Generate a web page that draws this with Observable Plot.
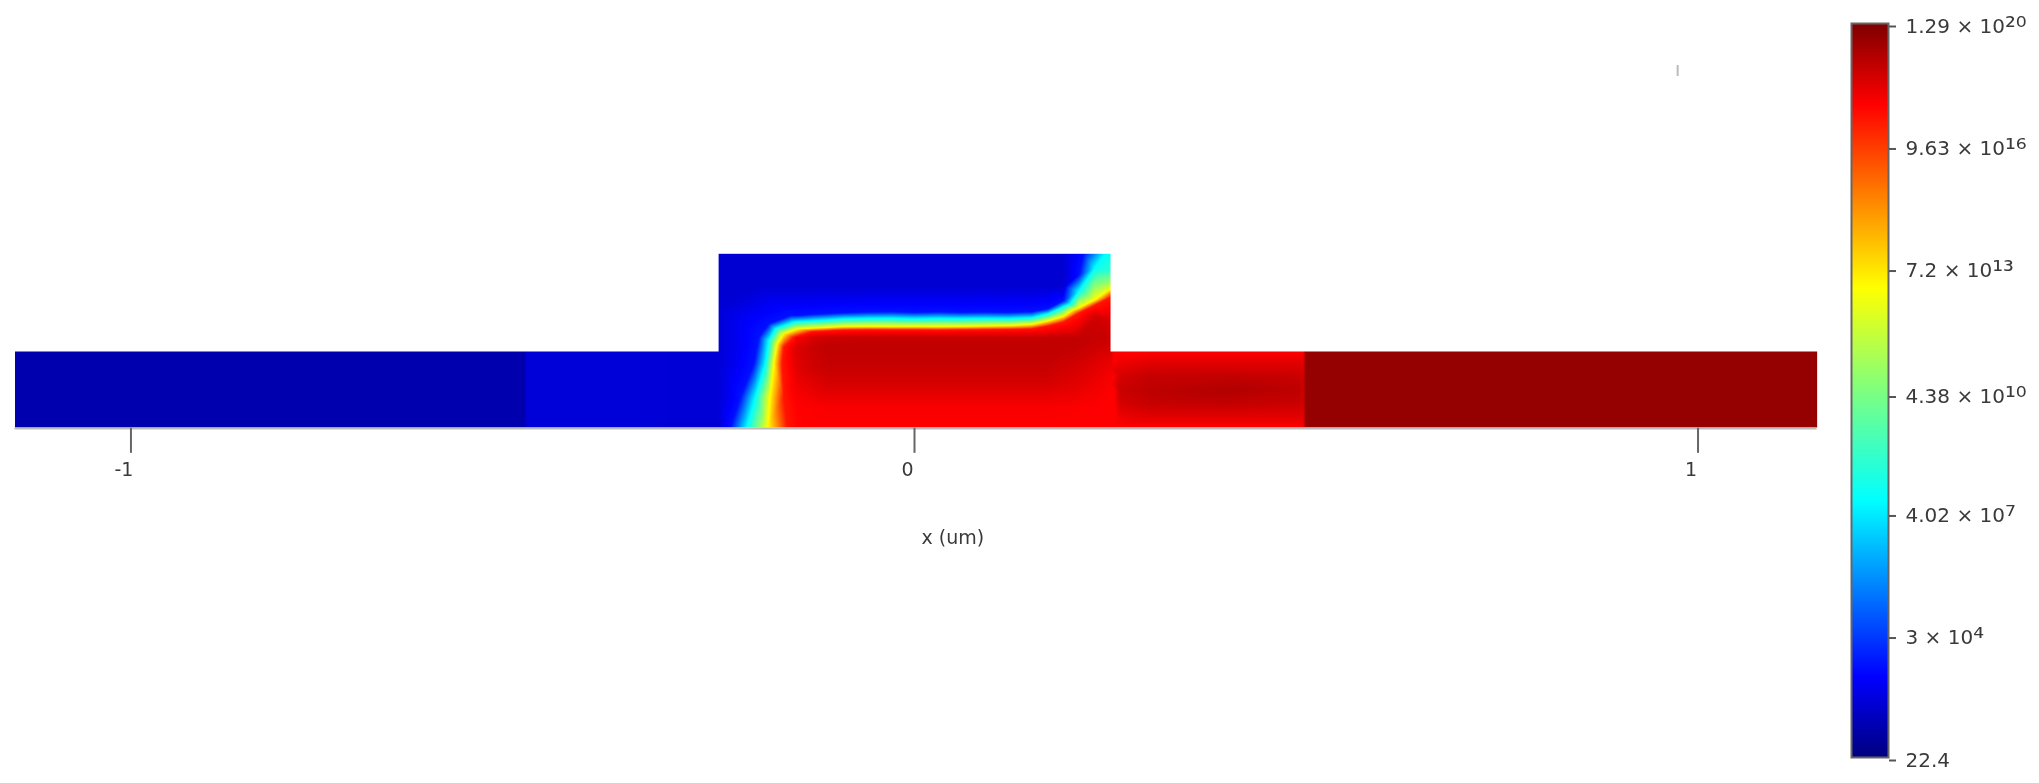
<!DOCTYPE html>
<html><head><meta charset="utf-8">
<script src="https://cdn.jsdelivr.net/npm/d3@7"></script>
<script src="https://cdn.jsdelivr.net/npm/@observablehq/plot@0.6"></script>
<style>
html,body{margin:0;padding:0;background:#fff;width:2039px;height:783px;overflow:hidden}
#wrap{position:relative;width:2039px;height:783px}
#wrap svg{position:absolute;top:0;filter:blur(.7px);background:transparent;font-family:"DejaVu Sans",sans-serif}
</style></head><body><div id="wrap"></div>
<script>
// Axis and colour bar
const xTicks = [-1, 0, 1];
const xLabel = "x (um)";
const barTicks = [1.35, 4.48, 7.6, 10.64, 13.86, 16.98, 20.11];           // log10 concentration
const barLabels = ["22.4", "3 × 10⁴", "4.02 × 10⁷", "4.38 × 10¹⁰", "7.2 × 10¹³", "9.63 × 10¹⁶", "1.29 × 10²⁰"];
const jetLevels = [1.35, 3.41, 7.92, 10.73, 13.36, 18.05, 20.11];
const jetColors = ["#00007f", "#0000ff", "#00ffff", "#7fff7f", "#ffff00", "#ff0000", "#7f0000"];

// Iso-levels of the junction
const blueLevel = 3.7, cyanLevel = 8.0, yellowLevel = 13.36, redLevel = 17.67;

// Top edge of the channel: iso-line heights at shared x stations
const topX       = [-.15,-.13,-.11,-.09,-.06,-.03,0,.03,.06,.09,.12,.15,.17,.19,.21,.23,.2502];
const topBlueY   = [.143,.1445,.1455,.1465,.1475,.1478,.147,.1476,.147,.1474,.147,.1478,.1515,.162,.195];
const topCyanY   = [.135,.136,.1372,.1385,.139,.1392,.1385,.139,.1387,.139,.1387,.14,.145,.154,.174,.203];
const topYellowY = [.1255,.1268,.1278,.1287,.129,.1288,.1289,.1287,.129,.1295,.13,.1316,.136,.142,.153,.163,.177];
const topRedY    = [.1167,.1225,.1235,.1245,.1248,.1247,.1247,.1245,.1248,.125,.1252,.126,.1295,.1345,.146,.156,.1663];

// Side of the channel and its corner: (x, y) read along each iso-line
const sideBlueX   = [-.2348,-.2221,-.2051,-.1987,-.1859,-.1583,-.2161+.432];
const sideBlueY   = [0,.0387,.0813,.1153,.1323,.1429,.2217];
const sideCyanX   = [-.2136,-.2029,-.1902,-.1859,-.1774,-.154,.2438];
const sideCyanY   = [0,.0387,.0813,.111,.1259,.1344,.2217];
const sideYellowX = [-.1872,-.1846,-.1795,-.1753,-.1668];
const sideYellowY = [0,.0387,.0813,.1068,.1196];
const sideRedX    = [-.1625,-.1668,-.1689,-.1668,-.154];
const sideRedY    = [0,.0387,.0813,.1025,.1153];

// Mesa right edge [x, y, log10 n]
const edgePoints = [[.2502,.2217,7.9],[.2502,.2004,9],[.2502,.1876,11],[.2502,.14,18.6],[.23,.14,18.8]];

// Deep-blue field
const fieldX = [-.25,-.2,-.15,-.13,-.11,-.09,-.06,-.03,0,.03,.06,.09,.12,.15,.17,.19];
const fieldY = [.2217,.18];
const fieldLevel = 2.7;
const sideX = [-.3,-.27,-.25];
const sideY = [0,.0387,.0813,.097,.1153,.1323,.15];
const sideLevel = 2.75;

// Channel body: rows at the shared x stations
const bodyY = [0,.026,.0557,.077,.1025,.115];
const bodyV = [
  [18,18.05,18.05,18.05,18.05,18.05,18.05,18.05,18.05,18.05,18.05,18.05,18.05,18.05,18.05,18.05,18.05],
  [18.05,18.1,18.15,18.15,18.15,18.15,18.15,18.15,18.15,18.15,18.15,18.15,18.15,18.12,18.1,18.08,18.05],
  [18.3,18.5,18.7,18.7,18.7,18.7,18.7,18.7,18.7,18.7,18.7,18.7,18.7,18.6,18.5,18.3,18.1],
  [18.5,18.8,18.95,18.95,18.95,18.95,18.95,18.95,18.95,18.95,18.95,18.95,18.95,18.8,18.7,18.5,18.3],
  [18.6,18.9,19.05,19.05,19.05,19.05,19.05,19.05,19.05,19.05,19.05,19.05,19.05,19.05,19,18.85,18.7],
  [18.2,18.7,18.85,18.9,18.95,18.95,18.95,18.95,18.95,18.95,18.95,18.95,18.95,19,19,18.95,18.9]
];

// Right-hand patch between the mesa and the contact
const patchX = [.255,.262,.3,.4,.49,.496];
const patchY = [0,.013,.03,.048,.066,.083,.097];
const patchV = [
  [18.05,18.05,18.05,18.05,18.05,18.05,18.05],
  [18.05,18.3,18.7,18.9,18.7,18.3,18.05],
  [18.05,18.5,18.95,19.1,18.95,18.5,18.05],
  [18.05,18.5,19,19.3,19,18.5,18.05],
  [18.05,18.5,18.9,19.1,18.9,18.5,18.05],
  [18.05,18.4,18.7,18.8,18.7,18.4,18.05]
];

// Contacts on each side
const railY = [0,.05,.097];
const leftX = [-1.148,-.498];
const leftLevel = 2.1;
const midX = [-.495,-.4];
const midLevel = 2.8;
const rightX = [.499,1.152];
const rightLevel = 19.75;

const layerBounds = {x1:-1.148,x2:1.152,y1:0,y2:.097};
const mesaBounds = {x1:-.25,x2:.2502,y1:.09,y2:.2217};

const pts = [];
const line = (X,Y,v) => X.forEach((x,i)=>pts.push({x,y:Y[i],v}));
const grid = (X,Y,v) => X.forEach(x=>Y.forEach(y=>pts.push({x,y,v})));
line(topX.slice(0,topBlueY.length),topBlueY,blueLevel);
line(topX.slice(0,topCyanY.length),topCyanY,cyanLevel);
line(topX,topYellowY,yellowLevel);
line(topX,topRedY,redLevel);
line(sideBlueX,sideBlueY,blueLevel); line(sideCyanX,sideCyanY,cyanLevel);
line(sideYellowX,sideYellowY,yellowLevel); line(sideRedX,sideRedY,redLevel);
edgePoints.forEach(([x,y,v])=>pts.push({x,y,v}));
grid(fieldX,fieldY,fieldLevel); grid(sideX,sideY,sideLevel);
bodyY.forEach((y,r)=>topX.forEach((x,c)=>pts.push({x,y,v:bodyV[r][c]})));
patchX.forEach((x,c)=>patchY.forEach((y,r)=>pts.push({x,y,v:patchV[c][r]})));
grid(leftX,railY,leftLevel); grid(midX,railY,midLevel); grid(rightX,patchY,rightLevel);

const colorScale = {type:"linear",domain:jetLevels,range:jetColors,interpolate:"rgb"};
const ink = "#3a3a3a";
const rasterOpts = {x:"x",y:"y",fill:"v",interpolate:"barycentric",pixelSize:1};

const main = Plot.plot({
  width:2039,height:783,margin:0,
  x:{domain:[-1.1665,1.4358],axis:null},
  y:{domain:[-.4544,.545],axis:null},
  color:colorScale,
  style:{background:"transparent"},
  marks:[
    Plot.raster(pts,{...rasterOpts,...mesaBounds}),
    Plot.raster(pts,{...rasterOpts,...layerBounds}),
    Plot.ruleY([0],{x1:-1.148,x2:1.152,stroke:"#bbb",strokeWidth:2,dy:1}),
    Plot.ruleX(xTicks,{y1:-.001,y2:-.033,stroke:"#666",strokeWidth:2}),
    Plot.text(xTicks,{x:d=>d,y:-.054,dx:-7,text:d=>String(d),fontSize:19,fill:ink}),
    Plot.text([xLabel],{x:.049,y:-.1403,text:d=>d,fontSize:19,fill:ink}),
    Plot.ruleX([.974],{y1:.448,y2:.462,stroke:"#bbb",strokeWidth:2})
  ]
});
main.style.left="0";

const bar = Plot.plot({
  width:199,height:783,
  marginLeft:11,marginRight:151,marginTop:23,marginBottom:26,
  x:{domain:[0,1],axis:null},
  y:{domain:[1.35,20.11],axis:null},
  color:colorScale,
  style:{background:"transparent"},
  marks:[
    Plot.raster({fill:(x,y)=>y,x1:0,x2:1,y1:1.35,y2:20.11,pixelSize:1}),
    Plot.frame({stroke:"#666",strokeWidth:2}),
    Plot.axisY(barTicks,{anchor:"right",tickSize:7,tickPadding:10,stroke:"#555",strokeWidth:2,
      tickFormat:(d,i)=>barLabels[i],fontSize:20,fill:ink,dy:3,label:null})
  ]
});
bar.style.left="1840px";
// Enlarge the superscript glyphs inside each label, keeping the text as one string
d3.select(bar).selectAll("text").each(function(){
  const s = this.textContent, m = s.match(/[⁰¹²³⁴⁵⁶⁷⁸⁹]+/);
  if(!m) return;
  this.textContent = s.slice(0,m.index);
  d3.select(this).append("tspan").attr("font-size",27).attr("dy",3).text(m[0]);
});
document.getElementById("wrap").append(main,bar);
</script></body></html>
